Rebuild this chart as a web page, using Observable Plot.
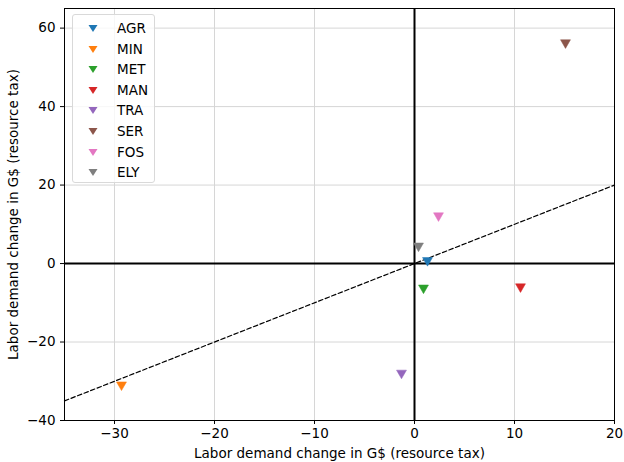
<!DOCTYPE html>
<html>
<head>
<meta charset="utf-8">
<script src="https://cdn.jsdelivr.net/npm/d3@7"></script>
<script src="https://cdn.jsdelivr.net/npm/@observablehq/plot@0.6"></script>
<style>
  body { margin: 0; background: #fff; }
  #wrap { position: relative; width: 624px; height: 462px; font-family: "DejaVu Sans", sans-serif; }
  #legend { position: absolute; left: 72px; top: 14px; width: 83px; height: 169px; box-sizing: border-box;
    border: 1px solid #d9d9d9; border-radius: 3px; background: rgba(255,255,255,0.8); font-size: 13.5px; color: #000; }
  .row { position: absolute; left: 0; height: 20px; display: flex; align-items: center; }
  .row svg { margin-left: 14px; }
  .row span { position: absolute; left: 44px; white-space: nowrap; }
</style>
</head>
<body>
<div id="wrap"></div>
<script>
const sectors = ["AGR", "MIN", "MET", "MAN", "TRA", "SER", "FOS", "ELY"];
const resourceTaxX = [1.3, -29.3, 0.9, 10.6, -1.3, 15.1, 2.4, 0.4];
const resourceTaxY = [0.8, -30.9, -6.2, -5.9, -27.9, 56.3, 12.2, 4.5];
const colors = ["#1f77b4", "#ff7f0e", "#2ca02c", "#d62728", "#9467bd", "#8c564b", "#e377c2", "#7f7f7f"];
const xTicks = [-30, -20, -10, 0, 10, 20];
const yTicks = [-40, -20, 0, 20, 40, 60];
const diagonal = [-35, 20];

const data = sectors.map((s, i) => ({sector: s, x: resourceTaxX[i], y: resourceTaxY[i]}));

const fmt = d => d < 0 ? "\u2212" + Math.abs(d) : String(d);

const chart = Plot.plot({
  width: 624,
  height: 462,
  marginLeft: 64,
  marginRight: 10,
  marginTop: 8,
  marginBottom: 42,
  style: {fontFamily: "DejaVu Sans, sans-serif", fontSize: "13.5px", background: "#fff", color: "#000"},
  x: {domain: [-35, 20]},
  y: {domain: [-40, 65]},
  color: {domain: sectors, range: colors},
  marks: [
    Plot.gridX(xTicks, {stroke: "#d6d6d6", strokeOpacity: 1}),
    Plot.gridY(yTicks, {stroke: "#d6d6d6", strokeOpacity: 1}),
    Plot.ruleX([0], {stroke: "#000", strokeWidth: 2}),
    Plot.ruleY([0], {stroke: "#000", strokeWidth: 2}),
    Plot.line(diagonal, {x: d => d, y: d => d, stroke: "#000", strokeWidth: 1.2, strokeDasharray: "4.5,2.5"}),
    Plot.dot(data, {x: "x", y: "y", fill: "sector", symbol: "triangle", rotate: 180, r: 3.7, stroke: "sector", strokeWidth: 0.5}),
    Plot.frame({stroke: "#000", strokeWidth: 1}),
    Plot.axisX(xTicks, {tickSize: 4, tickPadding: 4, tickFormat: fmt, fontSize: 13.5, label: "Labor demand change in G$ (resource tax)", labelAnchor: "center", labelArrow: "none", labelOffset: 37}),
    Plot.axisY(yTicks, {tickSize: 4, tickPadding: 5, tickFormat: fmt, fontSize: 13.5, label: "Labor demand change in G$ (resource tax)", labelAnchor: "center", labelArrow: "none", labelOffset: 56})
  ]
});

const wrap = document.getElementById("wrap");
wrap.appendChild(chart);

const legend = document.createElement("div");
legend.id = "legend";
sectors.forEach((s, i) => {
  const row = document.createElement("div");
  row.className = "row";
  row.style.top = (3 + i * 20.6) + "px";
  row.innerHTML = `<svg width="12" height="12" viewBox="-6 -6 12 12"><path d="M-4.5,-3 L4.5,-3 L0,4 Z" fill="${colors[i]}"/></svg><span>${s}</span>`;
  legend.appendChild(row);
});
wrap.appendChild(legend);
</script>
</body>
</html>
